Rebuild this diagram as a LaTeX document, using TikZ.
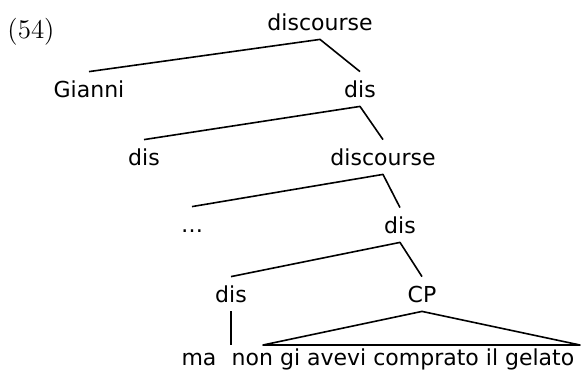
\documentclass[tikz,border=0pt]{standalone}
\usepackage{fontspec}
\newfontfamily\treefont{DejaVu Sans}
\usetikzlibrary{positioning}

\tikzset{
  cat/.style={anchor=base, font=\treefont\fontsize{11}{13}\selectfont,
    text height=8pt, text depth=0pt, inner sep=4.5pt},
  leaf/.style={cat, inner ysep=2pt},
  branch/.style={line width=0.8pt, line join=round}
}

\begin{document}
\begin{tikzpicture}[x=0.5pt,y=-0.5pt]
\useasboundingbox (0,0) rectangle (585,371);

%example number
\node[anchor=base, font=\fontsize{13.5}{16}\selectfont] (exnum) at (31,38) {(54)};

%the nodes of the tree, row by row
\node[cat] (top) at (320,30) {discourse};
\node[cat] (gianni) at (89,97) {Gianni};
\node[cat] (disA) at (360,97) {dis};
\node[cat] (disB) at (144,165) {dis};
\node[cat] (discB) at (383,165) {discourse};
\node[cat] (dots) at (192,232) {\dots};
\node[cat] (disC) at (400,233) {dis};
\node[cat] (disD) at (231,302) {dis};
\node[cat] (cp) at (422,302) {CP};
\node[leaf] (ma) at (199,365) {ma};
\node[leaf] (gelato) at (403,365) {non gi avevi comprato il gelato};

%corners of the roof over the CP
\coordinate (roofL) at (263,345);
\coordinate (roofR) at (580,345);

%branches
\draw[branch] (gianni.north) -- (top.south) -- (disA.north);
\draw[branch] (disB.north) -- (disA.south) -- (discB.north);
\draw[branch] (dots.north) -- (discB.south) -- (disC.north);
\draw[branch] (disD.north) -- (disC.south) -- (cp.north);
\draw[branch] (disD.south) -- (disD.south |- roofL);

%the roof
\draw[branch] (cp.south) -- (roofL) -- (roofR) -- cycle;

\end{tikzpicture}
\end{document}
